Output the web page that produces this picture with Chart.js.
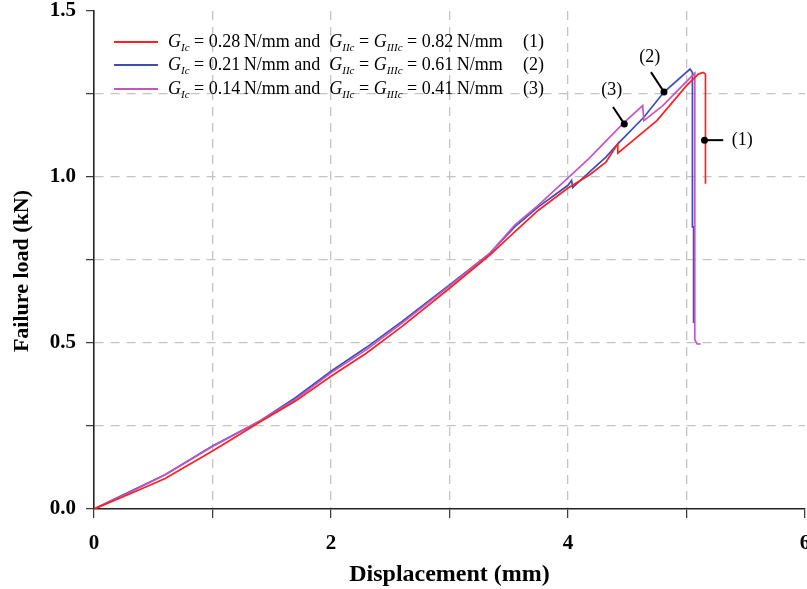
<!DOCTYPE html>
<html>
<head>
<meta charset="utf-8">
<script src="https://cdn.jsdelivr.net/npm/chart.js@4.4.1/dist/chart.umd.min.js"></script>
<style>
  html, body { margin: 0; padding: 0; background: #fff; }
  #wrap { position: relative; width: 807px; height: 589px; }
  #chart { position: absolute; left: 0; top: 0; }
  .leg { position: absolute; left: 0; height: 0; font-family: "Liberation Serif", "Times New Roman", serif; font-size: 18px; color: #000; }
  .leg .sw { position: absolute; left: 114px; top: -1px; width: 44px; height: 2px; }
  .leg .tx { position: absolute; left: 168px; top: -11px; white-space: nowrap; line-height: 20px; }
  .leg .num { position: absolute; left: 523px; top: -11px; line-height: 20px; }
  .leg sub { font-size: 11px; font-style: italic; vertical-align: -4px; line-height: 0; }
</style>
</head>
<body>
<div id="wrap">
  <canvas id="chart" width="807" height="589"></canvas>
  <div id="legend"></div>
</div>
<script>
// displacement (mm) and failure load (kN)
const disp1 = [0, 0.3, 0.6, 1.0, 1.4, 1.7, 2.0, 2.3, 2.6, 3.0, 3.34, 3.55, 3.75, 4.0, 4.18, 4.32, 4.42, 4.42, 4.75, 5.0, 5.1, 5.14, 5.16, 5.16];
const load1 = [0, 0.045, 0.092, 0.175, 0.262, 0.325, 0.40, 0.47, 0.55, 0.665, 0.765, 0.835, 0.9, 0.967, 1.006, 1.045, 1.10, 1.072, 1.17, 1.275, 1.31, 1.315, 1.31, 0.98];

const disp2 = [0, 0.3, 0.6, 1.0, 1.4, 1.7, 2.0, 2.3, 2.6, 3.0, 3.34, 3.55, 3.75, 4.0, 4.03, 4.04, 4.18, 4.32, 4.42, 4.64, 4.81, 5.03, 5.05, 5.05, 5.06, 5.06];
const load2 = [0, 0.052, 0.103, 0.19, 0.265, 0.335, 0.415, 0.487, 0.565, 0.675, 0.77, 0.85, 0.91, 0.975, 0.99, 0.968, 1.015, 1.06, 1.10, 1.18, 1.256, 1.325, 1.315, 0.85, 0.85, 0.56];

const disp3 = [0, 0.3, 0.6, 1.0, 1.4, 1.7, 2.0, 2.3, 2.6, 3.0, 3.34, 3.55, 3.75, 4.0, 4.18, 4.47, 4.63, 4.64, 4.8, 5.07, 5.07, 5.09, 5.12];
const load3 = [0, 0.05, 0.103, 0.188, 0.265, 0.33, 0.41, 0.48, 0.56, 0.672, 0.77, 0.855, 0.915, 0.997, 1.057, 1.163, 1.215, 1.17, 1.215, 1.313, 0.51, 0.497, 0.497];

const giC = ['0.28', '0.21', '0.14'];
const giiC = ['0.82', '0.61', '0.41'];
const caseTags = ['(1)', '(2)', '(3)'];
const colors = ['#ff1f1f', '#3f4db3', '#c456c4'];

const xTicks = [0, 2, 4, 6];
const yTicks = [0.0, 0.5, 1.0, 1.5];

// callouts: tag, text position, leader start, dot on curve
const callouts = [
  { tag: '(1)', text: [5.47, 1.111], from: [5.31, 1.111], dot: [5.152, 1.111] },
  { tag: '(2)', text: [4.69, 1.362], from: [4.70, 1.316], dot: [4.81, 1.256] },
  { tag: '(3)', text: [4.37, 1.262], from: [4.38, 1.211], dot: [4.475, 1.16] }
];

function pts(xs, ys) {
  return xs.map((x, i) => ({ x: x, y: ys[i] }));
}

// legend built as html so the subscripts stay real text
const legendEl = document.getElementById('legend');
const rowTops = [42, 65, 89];
giC.forEach((g, i) => {
  const row = document.createElement('div');
  row.className = 'leg';
  row.style.top = rowTops[i] + 'px';
  row.innerHTML =
    '<span class="sw" style="background:' + colors[i] + '"></span>' +
    '<span class="tx"><i>G</i><sub>Ic</sub> = ' + g + '&thinsp;N/mm and&nbsp; <i>G</i><sub>IIc</sub> = <i>G</i><sub>IIIc</sub> = ' + giiC[i] + '&thinsp;N/mm</span>' +
    '<span class="num">' + caseTags[i] + '</span>';
  legendEl.appendChild(row);
});

const serif = '"Liberation Serif", "Times New Roman", serif';

const extras = {
  id: 'extras',
  afterDraw(chart) {
    const ctx = chart.ctx;
    const xs = chart.scales.x, ys = chart.scales.y;
    ctx.save();
    ctx.strokeStyle = '#000';
    ctx.fillStyle = '#000';
    ctx.lineWidth = 2;
    ctx.font = '18px ' + serif;
    ctx.textAlign = 'center';
    ctx.textBaseline = 'middle';
    callouts.forEach(c => {
      const dx = xs.getPixelForValue(c.dot[0]), dy = ys.getPixelForValue(c.dot[1]);
      ctx.beginPath();
      ctx.moveTo(xs.getPixelForValue(c.from[0]), ys.getPixelForValue(c.from[1]));
      ctx.lineTo(dx, dy);
      ctx.stroke();
      ctx.beginPath();
      ctx.arc(dx, dy, 3.5, 0, Math.PI * 2);
      ctx.fill();
      ctx.fillText(c.tag, xs.getPixelForValue(c.text[0]), ys.getPixelForValue(c.text[1]));
    });
    // y axis title
    ctx.translate(22, 271);
    ctx.rotate(-Math.PI / 2);
    ctx.font = 'bold 22px ' + serif;
    ctx.fillText('Failure load (kN)', 0, 0);
    ctx.restore();
  }
};

const tickFont = { family: serif, size: 21, weight: 'bold' };

new Chart(document.getElementById('chart'), {
  type: 'scatter',
  data: {
    datasets: [
      { label: 'Case 1', data: pts(disp1, load1), borderColor: colors[0], order: 0 },
      { label: 'Case 2', data: pts(disp2, load2), borderColor: colors[1], order: 2 },
      { label: 'Case 3', data: pts(disp3, load3), borderColor: colors[2], order: 1 }
    ].map(d => Object.assign(d, { showLine: true, pointRadius: 0, borderWidth: 1.7, tension: 0, fill: false }))
  },
  options: {
    responsive: false,
    animation: false,
    layout: { padding: { top: 11, right: 2, left: 0, bottom: 0 }, autoPadding: false },
    plugins: { legend: { display: false }, tooltip: { enabled: false } },
    scales: {
      x: {
        type: 'linear', min: 0, max: 6,
        ticks: {
          stepSize: 1, autoSkip: false, maxRotation: 0, padding: 13, color: '#000', font: tickFont,
          callback: v => xTicks.includes(v) ? String(v) : ''
        },
        grid: {
          color: c => (c.tick && (c.tick.value === 0 || c.tick.value === 6)) ? 'rgba(0,0,0,0)' : '#c4c4c4',
          lineWidth: 1.3, tickLength: 9, tickColor: '#333', tickWidth: 1.2
        },
        border: { color: '#222', width: 1.6, dash: [9, 7] },
        title: { display: true, text: 'Displacement (mm)', color: '#000', font: { family: serif, size: 24, weight: 'bold' }, padding: { top: 0, bottom: 0 } },
        afterFit: s => { s.height = 80; s.paddingLeft = 0; s.paddingRight = 0; }
      },
      y: {
        type: 'linear', min: 0, max: 1.5,
        ticks: {
          stepSize: 0.25, autoSkip: false, padding: 10, color: '#000', font: tickFont,
          callback: v => yTicks.some(t => Math.abs(t - v) < 1e-9) ? v.toFixed(1) : ''
        },
        grid: {
          color: c => (c.tick && (c.tick.value === 0 || c.tick.value === 1.5)) ? 'rgba(0,0,0,0)' : '#c4c4c4',
          lineWidth: 1.3, tickLength: 8, tickColor: '#333', tickWidth: 1.2
        },
        border: { color: '#222', width: 1.6, dash: [9, 7] },
        afterFit: s => { s.width = 94; s.paddingTop = 0; s.paddingBottom = 0; }
      }
    }
  },
  plugins: [extras]
});
</script>
</body>
</html>
